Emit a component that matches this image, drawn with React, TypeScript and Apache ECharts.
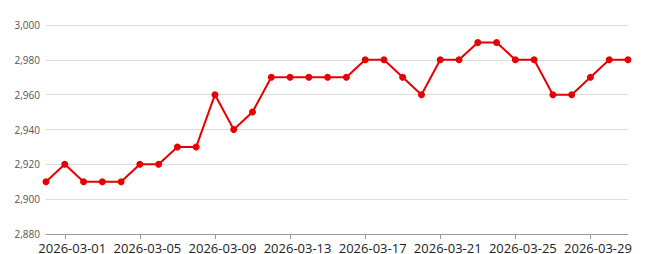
import React, { useEffect, useRef } from "react";
import * as echarts from "echarts";

const dates = [
  "2026-02-28", "2026-03-01", "2026-03-02", "2026-03-03", "2026-03-04", "2026-03-05",
  "2026-03-06", "2026-03-07", "2026-03-08", "2026-03-09", "2026-03-10", "2026-03-11",
  "2026-03-12", "2026-03-13", "2026-03-14", "2026-03-15", "2026-03-16", "2026-03-17",
  "2026-03-18", "2026-03-19", "2026-03-20", "2026-03-21", "2026-03-22", "2026-03-23",
  "2026-03-24", "2026-03-25", "2026-03-26", "2026-03-27", "2026-03-28", "2026-03-29",
  "2026-03-30", "2026-03-31",
];
const prices = [
  2910, 2920, 2910, 2910, 2910, 2920, 2920, 2930, 2930, 2960, 2940, 2950,
  2970, 2970, 2970, 2970, 2970, 2980, 2980, 2970, 2960, 2980, 2980, 2990,
  2990, 2980, 2980, 2960, 2960, 2970, 2980, 2980,
];
const yMin = 2880;
const yMax = 3000;
const yStep = 20;

export default function App() {
  const ref = useRef<HTMLDivElement>(null);
  useEffect(() => {
    if (!ref.current) return;
    const chart = echarts.init(ref.current, null, { renderer: "svg" });
    const showIdx = (i: number) => i % 4 === 1;
    chart.setOption({
      animation: false,
      grid: { left: 46, right: 22, top: 25, bottom: 19, containLabel: false },
      xAxis: {
        type: "category",
        data: dates,
        boundaryGap: false,
        axisLine: { lineStyle: { color: "#999" } },
        axisTick: { show: true, interval: showIdx, length: 5, lineStyle: { color: "#999" } },
        axisLabel: {
          interval: showIdx,
          color: "#222",
          fontSize: 13,
          margin: 7,
          padding: [0, 0, 0, 15],
          fontFamily: "Open Sans, sans-serif",
        },
        splitLine: { show: false },
      },
      yAxis: {
        type: "value",
        min: yMin,
        max: yMax,
        interval: yStep,
        axisLine: { show: false },
        axisTick: { show: false },
        axisLabel: {
          color: "#555",
          fontSize: 10,
          margin: 6,
          fontFamily: "Open Sans, sans-serif",
          formatter: (v: number) => v.toLocaleString("en-US"),
        },
        splitLine: { lineStyle: { color: "#dcdcdc" } },
      },
      series: [
        {
          type: "line",
          data: prices,
          symbol: "circle",
          symbolSize: 7,
          lineStyle: { color: "#e60000", width: 2 },
          itemStyle: { color: "#e60000" },
        },
      ],
    });
    return () => chart.dispose();
  }, []);
  return (
    <div
      ref={ref}
      style={{ position: "absolute", left: 0, top: 0, width: 650, height: 254 }}
    />
  );
}
